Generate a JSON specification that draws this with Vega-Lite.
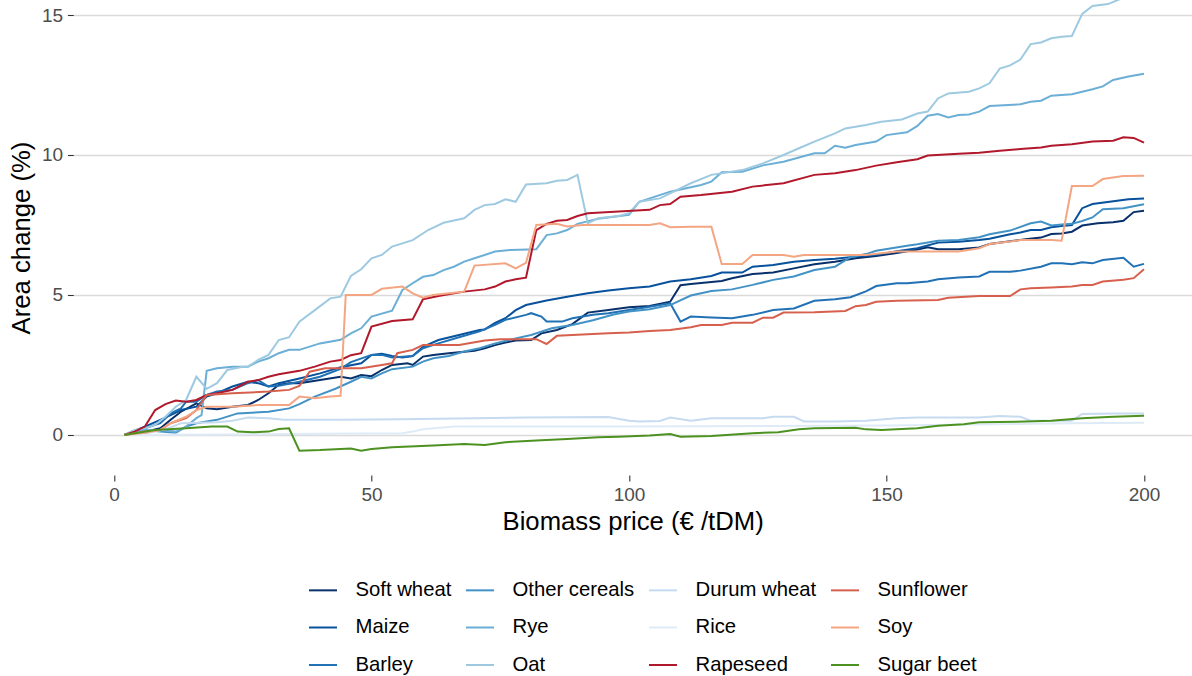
{
"$schema": "https://vega.github.io/schema/vega-lite/v6.json",
"width": 1118.6,
"height": 475,
"autosize": {"type": "none"},
"padding": {"left": 73.3, "top": 0, "right": 0, "bottom": 201},
"background": "white",
"config": {"view": {"stroke": null}, "font": "Liberation Sans"},
"datasets": {
"series": [
{"crop":"Soft wheat","price":2,"change":0},{"crop":"Soft wheat","price":6,"change":0.12},{"crop":"Soft wheat","price":9,"change":0.24},{"crop":"Soft wheat","price":11,"change":0.54},{"crop":"Soft wheat","price":13,"change":0.83},{"crop":"Soft wheat","price":16,"change":1.13},{"crop":"Soft wheat","price":18,"change":0.95},{"crop":"Soft wheat","price":20,"change":0.92},{"crop":"Soft wheat","price":23,"change":1.01},{"crop":"Soft wheat","price":26,"change":1.07},{"crop":"Soft wheat","price":28,"change":1.25},{"crop":"Soft wheat","price":30,"change":1.49},{"crop":"Soft wheat","price":32,"change":1.79},{"crop":"Soft wheat","price":34,"change":1.85},{"crop":"Soft wheat","price":36,"change":1.85},{"crop":"Soft wheat","price":40,"change":1.96},{"crop":"Soft wheat","price":44,"change":2.08},{"crop":"Soft wheat","price":46,"change":2.02},{"crop":"Soft wheat","price":48,"change":2.14},{"crop":"Soft wheat","price":50,"change":2.1},{"crop":"Soft wheat","price":52,"change":2.32},{"crop":"Soft wheat","price":54,"change":2.5},{"crop":"Soft wheat","price":57,"change":2.56},{"crop":"Soft wheat","price":58,"change":2.5},{"crop":"Soft wheat","price":60,"change":2.8},{"crop":"Soft wheat","price":62,"change":2.86},{"crop":"Soft wheat","price":65,"change":2.92},{"crop":"Soft wheat","price":70,"change":3.01},{"crop":"Soft wheat","price":72,"change":3.1},{"crop":"Soft wheat","price":74,"change":3.21},{"crop":"Soft wheat","price":76,"change":3.3},{"crop":"Soft wheat","price":78,"change":3.37},{"crop":"Soft wheat","price":81,"change":3.39},{"crop":"Soft wheat","price":83,"change":3.63},{"crop":"Soft wheat","price":86,"change":3.75},{"crop":"Soft wheat","price":89,"change":3.96},{"crop":"Soft wheat","price":92,"change":4.37},{"crop":"Soft wheat","price":96,"change":4.46},{"crop":"Soft wheat","price":100,"change":4.56},{"crop":"Soft wheat","price":104,"change":4.61},{"crop":"Soft wheat","price":108,"change":4.76},{"crop":"Soft wheat","price":110,"change":5.35},{"crop":"Soft wheat","price":112,"change":5.39},{"crop":"Soft wheat","price":118,"change":5.5},{"crop":"Soft wheat","price":120,"change":5.6},{"crop":"Soft wheat","price":124,"change":5.75},{"crop":"Soft wheat","price":128,"change":5.8},{"crop":"Soft wheat","price":132,"change":5.95},{"crop":"Soft wheat","price":136,"change":6.1},{"crop":"Soft wheat","price":140,"change":6.19},{"crop":"Soft wheat","price":144,"change":6.31},{"crop":"Soft wheat","price":148,"change":6.39},{"crop":"Soft wheat","price":152,"change":6.5},{"crop":"Soft wheat","price":156,"change":6.62},{"crop":"Soft wheat","price":158,"change":6.7},{"crop":"Soft wheat","price":160,"change":6.63},{"crop":"Soft wheat","price":164,"change":6.63},{"crop":"Soft wheat","price":168,"change":6.7},{"crop":"Soft wheat","price":170,"change":6.82},{"crop":"Soft wheat","price":174,"change":6.92},{"crop":"Soft wheat","price":177,"change":6.99},{"crop":"Soft wheat","price":180,"change":7.05},{"crop":"Soft wheat","price":182,"change":7.18},{"crop":"Soft wheat","price":184,"change":7.2},{"crop":"Soft wheat","price":186,"change":7.26},{"crop":"Soft wheat","price":188,"change":7.48},{"crop":"Soft wheat","price":191,"change":7.56},{"crop":"Soft wheat","price":194,"change":7.6},{"crop":"Soft wheat","price":196,"change":7.65},{"crop":"Soft wheat","price":198,"change":7.96},{"crop":"Soft wheat","price":200,"change":8.01},
{"crop":"Maize","price":2,"change":0},{"crop":"Maize","price":6,"change":0.3},{"crop":"Maize","price":9,"change":0.54},{"crop":"Maize","price":11,"change":0.71},{"crop":"Maize","price":13,"change":0.89},{"crop":"Maize","price":16,"change":1.01},{"crop":"Maize","price":18,"change":1.37},{"crop":"Maize","price":20,"change":1.49},{"crop":"Maize","price":23,"change":1.73},{"crop":"Maize","price":26,"change":1.9},{"crop":"Maize","price":28,"change":1.85},{"crop":"Maize","price":30,"change":1.73},{"crop":"Maize","price":32,"change":1.85},{"crop":"Maize","price":36,"change":2.02},{"crop":"Maize","price":40,"change":2.2},{"crop":"Maize","price":44,"change":2.42},{"crop":"Maize","price":48,"change":2.56},{"crop":"Maize","price":50,"change":2.86},{"crop":"Maize","price":52,"change":2.9},{"crop":"Maize","price":54,"change":2.82},{"crop":"Maize","price":56,"change":2.77},{"crop":"Maize","price":58,"change":2.82},{"crop":"Maize","price":60,"change":3.15},{"crop":"Maize","price":63,"change":3.39},{"crop":"Maize","price":67,"change":3.57},{"crop":"Maize","price":71,"change":3.75},{"crop":"Maize","price":72,"change":3.77},{"crop":"Maize","price":74,"change":4.0},{"crop":"Maize","price":76,"change":4.17},{"crop":"Maize","price":78,"change":4.46},{"crop":"Maize","price":80,"change":4.64},{"crop":"Maize","price":84,"change":4.8},{"crop":"Maize","price":88,"change":4.94},{"crop":"Maize","price":92,"change":5.06},{"crop":"Maize","price":96,"change":5.16},{"crop":"Maize","price":100,"change":5.24},{"crop":"Maize","price":104,"change":5.3},{"crop":"Maize","price":108,"change":5.48},{"crop":"Maize","price":112,"change":5.56},{"crop":"Maize","price":116,"change":5.68},{"crop":"Maize","price":118,"change":5.8},{"crop":"Maize","price":122,"change":5.8},{"crop":"Maize","price":124,"change":6.01},{"crop":"Maize","price":128,"change":6.07},{"crop":"Maize","price":132,"change":6.19},{"crop":"Maize","price":136,"change":6.25},{"crop":"Maize","price":140,"change":6.29},{"crop":"Maize","price":144,"change":6.37},{"crop":"Maize","price":148,"change":6.43},{"crop":"Maize","price":152,"change":6.56},{"crop":"Maize","price":156,"change":6.67},{"crop":"Maize","price":160,"change":6.87},{"crop":"Maize","price":164,"change":6.9},{"crop":"Maize","price":168,"change":6.96},{"crop":"Maize","price":170,"change":7.01},{"crop":"Maize","price":174,"change":7.17},{"crop":"Maize","price":176,"change":7.23},{"crop":"Maize","price":178,"change":7.32},{"crop":"Maize","price":180,"change":7.32},{"crop":"Maize","price":182,"change":7.42},{"crop":"Maize","price":184,"change":7.46},{"crop":"Maize","price":186,"change":7.5},{"crop":"Maize","price":188,"change":8.1},{"crop":"Maize","price":190,"change":8.25},{"crop":"Maize","price":197,"change":8.42},{"crop":"Maize","price":200,"change":8.45},
{"crop":"Barley","price":2,"change":0},{"crop":"Barley","price":6,"change":0.24},{"crop":"Barley","price":9,"change":0.42},{"crop":"Barley","price":11,"change":0.77},{"crop":"Barley","price":13,"change":0.95},{"crop":"Barley","price":14,"change":1.19},{"crop":"Barley","price":16,"change":1.19},{"crop":"Barley","price":18,"change":1.43},{"crop":"Barley","price":20,"change":1.55},{"crop":"Barley","price":23,"change":1.61},{"crop":"Barley","price":26,"change":1.85},{"crop":"Barley","price":28,"change":1.96},{"crop":"Barley","price":30,"change":1.73},{"crop":"Barley","price":32,"change":1.76},{"crop":"Barley","price":36,"change":1.9},{"crop":"Barley","price":40,"change":2.08},{"crop":"Barley","price":44,"change":2.36},{"crop":"Barley","price":46,"change":2.6},{"crop":"Barley","price":50,"change":2.86},{"crop":"Barley","price":52,"change":2.86},{"crop":"Barley","price":54,"change":2.77},{"crop":"Barley","price":58,"change":2.82},{"crop":"Barley","price":60,"change":3.1},{"crop":"Barley","price":63,"change":3.27},{"crop":"Barley","price":67,"change":3.49},{"crop":"Barley","price":71,"change":3.7},{"crop":"Barley","price":74,"change":3.93},{"crop":"Barley","price":76,"change":4.11},{"crop":"Barley","price":80,"change":4.29},{"crop":"Barley","price":81,"change":4.35},{"crop":"Barley","price":83,"change":4.23},{"crop":"Barley","price":84,"change":4.05},{"crop":"Barley","price":87,"change":4.05},{"crop":"Barley","price":89,"change":4.17},{"crop":"Barley","price":93,"change":4.29},{"crop":"Barley","price":96,"change":4.35},{"crop":"Barley","price":100,"change":4.46},{"crop":"Barley","price":104,"change":4.58},{"crop":"Barley","price":108,"change":4.7},{"crop":"Barley","price":110,"change":4.05},{"crop":"Barley","price":112,"change":4.23},{"crop":"Barley","price":116,"change":4.2},{"crop":"Barley","price":120,"change":4.17},{"crop":"Barley","price":124,"change":4.29},{"crop":"Barley","price":128,"change":4.46},{"crop":"Barley","price":132,"change":4.52},{"crop":"Barley","price":136,"change":4.79},{"crop":"Barley","price":140,"change":4.85},{"crop":"Barley","price":143,"change":4.92},{"crop":"Barley","price":146,"change":5.13},{"crop":"Barley","price":148,"change":5.32},{"crop":"Barley","price":152,"change":5.42},{"crop":"Barley","price":154,"change":5.42},{"crop":"Barley","price":158,"change":5.48},{"crop":"Barley","price":160,"change":5.56},{"crop":"Barley","price":164,"change":5.62},{"crop":"Barley","price":168,"change":5.66},{"crop":"Barley","price":170,"change":5.83},{"crop":"Barley","price":174,"change":5.83},{"crop":"Barley","price":176,"change":5.87},{"crop":"Barley","price":180,"change":6.01},{"crop":"Barley","price":182,"change":6.13},{"crop":"Barley","price":184,"change":6.13},{"crop":"Barley","price":186,"change":6.1},{"crop":"Barley","price":188,"change":6.17},{"crop":"Barley","price":190,"change":6.13},{"crop":"Barley","price":192,"change":6.25},{"crop":"Barley","price":196,"change":6.33},{"crop":"Barley","price":198,"change":6.01},{"crop":"Barley","price":200,"change":6.11},
{"crop":"Other cereals","price":2,"change":0},{"crop":"Other cereals","price":6,"change":0.18},{"crop":"Other cereals","price":9,"change":0.12},{"crop":"Other cereals","price":12,"change":0.08},{"crop":"Other cereals","price":14,"change":0.3},{"crop":"Other cereals","price":16,"change":0.42},{"crop":"Other cereals","price":18,"change":0.48},{"crop":"Other cereals","price":20,"change":0.54},{"crop":"Other cereals","price":24,"change":0.77},{"crop":"Other cereals","price":30,"change":0.83},{"crop":"Other cereals","price":34,"change":0.95},{"crop":"Other cereals","price":36,"change":1.1},{"crop":"Other cereals","price":39,"change":1.37},{"crop":"Other cereals","price":43,"change":1.65},{"crop":"Other cereals","price":46,"change":1.9},{"crop":"Other cereals","price":48,"change":2.08},{"crop":"Other cereals","price":50,"change":2.02},{"crop":"Other cereals","price":52,"change":2.2},{"crop":"Other cereals","price":54,"change":2.35},{"crop":"Other cereals","price":58,"change":2.44},{"crop":"Other cereals","price":60,"change":2.62},{"crop":"Other cereals","price":62,"change":2.74},{"crop":"Other cereals","price":65,"change":2.82},{"crop":"Other cereals","price":68,"change":2.98},{"crop":"Other cereals","price":71,"change":3.1},{"crop":"Other cereals","price":74,"change":3.27},{"crop":"Other cereals","price":78,"change":3.45},{"crop":"Other cereals","price":81,"change":3.57},{"crop":"Other cereals","price":85,"change":3.81},{"crop":"Other cereals","price":89,"change":3.93},{"crop":"Other cereals","price":93,"change":4.1},{"crop":"Other cereals","price":97,"change":4.3},{"crop":"Other cereals","price":100,"change":4.41},{"crop":"Other cereals","price":104,"change":4.49},{"crop":"Other cereals","price":108,"change":4.64},{"crop":"Other cereals","price":112,"change":4.98},{"crop":"Other cereals","price":116,"change":5.14},{"crop":"Other cereals","price":120,"change":5.2},{"crop":"Other cereals","price":124,"change":5.36},{"crop":"Other cereals","price":128,"change":5.54},{"crop":"Other cereals","price":132,"change":5.66},{"crop":"Other cereals","price":136,"change":5.89},{"crop":"Other cereals","price":140,"change":6.01},{"crop":"Other cereals","price":143,"change":6.35},{"crop":"Other cereals","price":146,"change":6.46},{"crop":"Other cereals","price":148,"change":6.58},{"crop":"Other cereals","price":151,"change":6.67},{"crop":"Other cereals","price":154,"change":6.76},{"crop":"Other cereals","price":156,"change":6.81},{"crop":"Other cereals","price":160,"change":6.94},{"crop":"Other cereals","price":164,"change":6.96},{"crop":"Other cereals","price":168,"change":7.06},{"crop":"Other cereals","price":170,"change":7.17},{"crop":"Other cereals","price":174,"change":7.3},{"crop":"Other cereals","price":178,"change":7.56},{"crop":"Other cereals","price":180,"change":7.62},{"crop":"Other cereals","price":182,"change":7.48},{"crop":"Other cereals","price":184,"change":7.52},{"crop":"Other cereals","price":186,"change":7.54},{"crop":"Other cereals","price":188,"change":7.64},{"crop":"Other cereals","price":190,"change":7.77},{"crop":"Other cereals","price":192,"change":8.06},{"crop":"Other cereals","price":196,"change":8.1},{"crop":"Other cereals","price":200,"change":8.24},
{"crop":"Rye","price":2,"change":0},{"crop":"Rye","price":6,"change":0.18},{"crop":"Rye","price":9,"change":0.18},{"crop":"Rye","price":12,"change":0.12},{"crop":"Rye","price":14,"change":0.3},{"crop":"Rye","price":16,"change":0.6},{"crop":"Rye","price":17,"change":0.71},{"crop":"Rye","price":18,"change":2.29},{"crop":"Rye","price":20,"change":2.38},{"crop":"Rye","price":23,"change":2.44},{"crop":"Rye","price":26,"change":2.44},{"crop":"Rye","price":28,"change":2.62},{"crop":"Rye","price":30,"change":2.74},{"crop":"Rye","price":32,"change":2.92},{"crop":"Rye","price":34,"change":3.04},{"crop":"Rye","price":36,"change":3.04},{"crop":"Rye","price":40,"change":3.27},{"crop":"Rye","price":44,"change":3.4},{"crop":"Rye","price":46,"change":3.63},{"crop":"Rye","price":48,"change":3.81},{"crop":"Rye","price":50,"change":4.23},{"crop":"Rye","price":54,"change":4.44},{"crop":"Rye","price":56,"change":5.18},{"crop":"Rye","price":58,"change":5.42},{"crop":"Rye","price":60,"change":5.65},{"crop":"Rye","price":62,"change":5.71},{"crop":"Rye","price":64,"change":5.89},{"crop":"Rye","price":66,"change":6.01},{"crop":"Rye","price":68,"change":6.19},{"crop":"Rye","price":70,"change":6.31},{"crop":"Rye","price":74,"change":6.55},{"crop":"Rye","price":77,"change":6.61},{"crop":"Rye","price":82,"change":6.63},{"crop":"Rye","price":84,"change":7.14},{"crop":"Rye","price":86,"change":7.2},{"crop":"Rye","price":88,"change":7.32},{"crop":"Rye","price":90,"change":7.54},{"crop":"Rye","price":94,"change":7.72},{"crop":"Rye","price":100,"change":7.86},{"crop":"Rye","price":102,"change":8.33},{"crop":"Rye","price":108,"change":8.69},{"crop":"Rye","price":114,"change":8.93},{"crop":"Rye","price":116,"change":9.05},{"crop":"Rye","price":118,"change":9.38},{"crop":"Rye","price":122,"change":9.4},{"crop":"Rye","price":126,"change":9.63},{"crop":"Rye","price":130,"change":9.76},{"crop":"Rye","price":136,"change":10.06},{"crop":"Rye","price":138,"change":10.06},{"crop":"Rye","price":140,"change":10.33},{"crop":"Rye","price":142,"change":10.26},{"crop":"Rye","price":144,"change":10.36},{"crop":"Rye","price":148,"change":10.48},{"crop":"Rye","price":150,"change":10.71},{"crop":"Rye","price":154,"change":10.81},{"crop":"Rye","price":156,"change":11.04},{"crop":"Rye","price":158,"change":11.4},{"crop":"Rye","price":160,"change":11.46},{"crop":"Rye","price":162,"change":11.34},{"crop":"Rye","price":164,"change":11.43},{"crop":"Rye","price":166,"change":11.45},{"crop":"Rye","price":168,"change":11.55},{"crop":"Rye","price":170,"change":11.75},{"crop":"Rye","price":176,"change":11.81},{"crop":"Rye","price":178,"change":11.9},{"crop":"Rye","price":180,"change":11.94},{"crop":"Rye","price":182,"change":12.12},{"crop":"Rye","price":186,"change":12.17},{"crop":"Rye","price":190,"change":12.35},{"crop":"Rye","price":192,"change":12.45},{"crop":"Rye","price":194,"change":12.68},{"crop":"Rye","price":197,"change":12.8},{"crop":"Rye","price":200,"change":12.9},
{"crop":"Oat","price":2,"change":0},{"crop":"Oat","price":4,"change":0.18},{"crop":"Oat","price":6,"change":0.24},{"crop":"Oat","price":8,"change":0.36},{"crop":"Oat","price":10,"change":0.65},{"crop":"Oat","price":12,"change":1.01},{"crop":"Oat","price":14,"change":1.25},{"crop":"Oat","price":16,"change":2.08},{"crop":"Oat","price":18,"change":1.65},{"crop":"Oat","price":20,"change":1.85},{"crop":"Oat","price":22,"change":2.32},{"crop":"Oat","price":25,"change":2.44},{"crop":"Oat","price":26,"change":2.44},{"crop":"Oat","price":28,"change":2.68},{"crop":"Oat","price":30,"change":2.86},{"crop":"Oat","price":32,"change":3.39},{"crop":"Oat","price":34,"change":3.49},{"crop":"Oat","price":36,"change":4.05},{"crop":"Oat","price":39,"change":4.46},{"crop":"Oat","price":42,"change":4.88},{"crop":"Oat","price":44,"change":4.94},{"crop":"Oat","price":46,"change":5.68},{"crop":"Oat","price":48,"change":5.92},{"crop":"Oat","price":50,"change":6.31},{"crop":"Oat","price":52,"change":6.43},{"crop":"Oat","price":54,"change":6.73},{"crop":"Oat","price":58,"change":6.96},{"crop":"Oat","price":61,"change":7.32},{"crop":"Oat","price":64,"change":7.58},{"crop":"Oat","price":68,"change":7.74},{"crop":"Oat","price":70,"change":8.04},{"crop":"Oat","price":72,"change":8.21},{"crop":"Oat","price":74,"change":8.25},{"crop":"Oat","price":76,"change":8.42},{"crop":"Oat","price":78,"change":8.33},{"crop":"Oat","price":80,"change":8.95},{"crop":"Oat","price":84,"change":8.99},{"crop":"Oat","price":86,"change":9.08},{"crop":"Oat","price":88,"change":9.11},{"crop":"Oat","price":90,"change":9.29},{"crop":"Oat","price":92,"change":7.56},{"crop":"Oat","price":94,"change":7.74},{"crop":"Oat","price":98,"change":7.82},{"crop":"Oat","price":100,"change":7.92},{"crop":"Oat","price":102,"change":8.33},{"crop":"Oat","price":104,"change":8.39},{"crop":"Oat","price":106,"change":8.45},{"crop":"Oat","price":112,"change":8.99},{"crop":"Oat","price":116,"change":9.29},{"crop":"Oat","price":122,"change":9.46},{"crop":"Oat","price":126,"change":9.7},{"crop":"Oat","price":130,"change":10.0},{"crop":"Oat","price":133,"change":10.24},{"crop":"Oat","price":136,"change":10.48},{"crop":"Oat","price":140,"change":10.77},{"crop":"Oat","price":142,"change":10.95},{"crop":"Oat","price":146,"change":11.07},{"crop":"Oat","price":149,"change":11.19},{"crop":"Oat","price":153,"change":11.27},{"crop":"Oat","price":156,"change":11.48},{"crop":"Oat","price":158,"change":11.55},{"crop":"Oat","price":160,"change":12.02},{"crop":"Oat","price":162,"change":12.2},{"crop":"Oat","price":166,"change":12.26},{"crop":"Oat","price":168,"change":12.38},{"crop":"Oat","price":170,"change":12.56},{"crop":"Oat","price":172,"change":13.09},{"crop":"Oat","price":174,"change":13.2},{"crop":"Oat","price":176,"change":13.41},{"crop":"Oat","price":178,"change":13.96},{"crop":"Oat","price":180,"change":14.02},{"crop":"Oat","price":182,"change":14.17},{"crop":"Oat","price":184,"change":14.22},{"crop":"Oat","price":186,"change":14.25},{"crop":"Oat","price":188,"change":15.04},{"crop":"Oat","price":190,"change":15.32},{"crop":"Oat","price":193,"change":15.39},{"crop":"Oat","price":195,"change":15.54},{"crop":"Oat","price":198,"change":15.8},{"crop":"Oat","price":200,"change":16.0},
{"crop":"Durum wheat","price":2,"change":0},{"crop":"Durum wheat","price":6,"change":0.05},{"crop":"Durum wheat","price":10,"change":0.2},{"crop":"Durum wheat","price":13,"change":0.42},{"crop":"Durum wheat","price":20,"change":0.45},{"crop":"Durum wheat","price":23,"change":0.51},{"crop":"Durum wheat","price":26,"change":0.62},{"crop":"Durum wheat","price":30,"change":0.6},{"crop":"Durum wheat","price":33,"change":0.54},{"crop":"Durum wheat","price":44,"change":0.54},{"crop":"Durum wheat","price":56,"change":0.56},{"crop":"Durum wheat","price":70,"change":0.6},{"crop":"Durum wheat","price":80,"change":0.62},{"crop":"Durum wheat","price":96,"change":0.64},{"crop":"Durum wheat","price":100,"change":0.51},{"crop":"Durum wheat","price":102,"change":0.48},{"crop":"Durum wheat","price":106,"change":0.5},{"crop":"Durum wheat","price":108,"change":0.62},{"crop":"Durum wheat","price":112,"change":0.51},{"crop":"Durum wheat","price":116,"change":0.6},{"crop":"Durum wheat","price":126,"change":0.6},{"crop":"Durum wheat","price":128,"change":0.65},{"crop":"Durum wheat","price":132,"change":0.65},{"crop":"Durum wheat","price":134,"change":0.48},{"crop":"Durum wheat","price":140,"change":0.48},{"crop":"Durum wheat","price":146,"change":0.51},{"crop":"Durum wheat","price":152,"change":0.6},{"crop":"Durum wheat","price":156,"change":0.62},{"crop":"Durum wheat","price":168,"change":0.62},{"crop":"Durum wheat","price":172,"change":0.68},{"crop":"Durum wheat","price":176,"change":0.65},{"crop":"Durum wheat","price":178,"change":0.51},{"crop":"Durum wheat","price":186,"change":0.51},{"crop":"Durum wheat","price":188,"change":0.75},{"crop":"Durum wheat","price":194,"change":0.77},{"crop":"Durum wheat","price":200,"change":0.77},
{"crop":"Rice","price":2,"change":0},{"crop":"Rice","price":20,"change":0.02},{"crop":"Rice","price":40,"change":0.04},{"crop":"Rice","price":56,"change":0.06},{"crop":"Rice","price":58,"change":0.12},{"crop":"Rice","price":60,"change":0.2},{"crop":"Rice","price":66,"change":0.3},{"crop":"Rice","price":100,"change":0.3},{"crop":"Rice","price":150,"change":0.34},{"crop":"Rice","price":170,"change":0.38},{"crop":"Rice","price":186,"change":0.42},{"crop":"Rice","price":200,"change":0.44},
{"crop":"Rapeseed","price":2,"change":0},{"crop":"Rapeseed","price":4,"change":0.12},{"crop":"Rapeseed","price":6,"change":0.3},{"crop":"Rapeseed","price":8,"change":0.89},{"crop":"Rapeseed","price":10,"change":1.1},{"crop":"Rapeseed","price":12,"change":1.23},{"crop":"Rapeseed","price":14,"change":1.19},{"crop":"Rapeseed","price":16,"change":1.25},{"crop":"Rapeseed","price":18,"change":1.43},{"crop":"Rapeseed","price":20,"change":1.49},{"crop":"Rapeseed","price":23,"change":1.61},{"crop":"Rapeseed","price":26,"change":1.9},{"crop":"Rapeseed","price":28,"change":1.96},{"crop":"Rapeseed","price":30,"change":2.08},{"crop":"Rapeseed","price":32,"change":2.17},{"crop":"Rapeseed","price":36,"change":2.29},{"crop":"Rapeseed","price":39,"change":2.44},{"crop":"Rapeseed","price":42,"change":2.62},{"crop":"Rapeseed","price":44,"change":2.68},{"crop":"Rapeseed","price":46,"change":2.85},{"crop":"Rapeseed","price":48,"change":2.92},{"crop":"Rapeseed","price":50,"change":3.87},{"crop":"Rapeseed","price":54,"change":4.07},{"crop":"Rapeseed","price":58,"change":4.13},{"crop":"Rapeseed","price":60,"change":4.85},{"crop":"Rapeseed","price":63,"change":4.96},{"crop":"Rapeseed","price":68,"change":5.12},{"crop":"Rapeseed","price":72,"change":5.2},{"crop":"Rapeseed","price":74,"change":5.3},{"crop":"Rapeseed","price":76,"change":5.48},{"crop":"Rapeseed","price":78,"change":5.56},{"crop":"Rapeseed","price":80,"change":5.62},{"crop":"Rapeseed","price":82,"change":7.32},{"crop":"Rapeseed","price":84,"change":7.54},{"crop":"Rapeseed","price":86,"change":7.65},{"crop":"Rapeseed","price":88,"change":7.68},{"crop":"Rapeseed","price":90,"change":7.82},{"crop":"Rapeseed","price":92,"change":7.92},{"crop":"Rapeseed","price":98,"change":7.98},{"crop":"Rapeseed","price":104,"change":8.04},{"crop":"Rapeseed","price":106,"change":8.21},{"crop":"Rapeseed","price":108,"change":8.25},{"crop":"Rapeseed","price":110,"change":8.51},{"crop":"Rapeseed","price":114,"change":8.57},{"crop":"Rapeseed","price":120,"change":8.69},{"crop":"Rapeseed","price":124,"change":8.87},{"crop":"Rapeseed","price":130,"change":8.99},{"crop":"Rapeseed","price":136,"change":9.29},{"crop":"Rapeseed","price":140,"change":9.35},{"crop":"Rapeseed","price":144,"change":9.46},{"crop":"Rapeseed","price":148,"change":9.62},{"crop":"Rapeseed","price":152,"change":9.74},{"crop":"Rapeseed","price":156,"change":9.85},{"crop":"Rapeseed","price":158,"change":9.98},{"crop":"Rapeseed","price":164,"change":10.04},{"crop":"Rapeseed","price":168,"change":10.08},{"crop":"Rapeseed","price":172,"change":10.15},{"crop":"Rapeseed","price":176,"change":10.21},{"crop":"Rapeseed","price":180,"change":10.27},{"crop":"Rapeseed","price":182,"change":10.33},{"crop":"Rapeseed","price":186,"change":10.38},{"crop":"Rapeseed","price":190,"change":10.48},{"crop":"Rapeseed","price":194,"change":10.51},{"crop":"Rapeseed","price":196,"change":10.63},{"crop":"Rapeseed","price":198,"change":10.61},{"crop":"Rapeseed","price":200,"change":10.44},
{"crop":"Sunflower","price":2,"change":0},{"crop":"Sunflower","price":6,"change":0.12},{"crop":"Sunflower","price":9,"change":0.18},{"crop":"Sunflower","price":11,"change":0.42},{"crop":"Sunflower","price":14,"change":0.6},{"crop":"Sunflower","price":16,"change":0.89},{"crop":"Sunflower","price":18,"change":1.43},{"crop":"Sunflower","price":23,"change":1.49},{"crop":"Sunflower","price":30,"change":1.55},{"crop":"Sunflower","price":34,"change":1.61},{"crop":"Sunflower","price":36,"change":1.75},{"crop":"Sunflower","price":38,"change":2.26},{"crop":"Sunflower","price":41,"change":2.38},{"crop":"Sunflower","price":44,"change":2.38},{"crop":"Sunflower","price":48,"change":2.38},{"crop":"Sunflower","price":52,"change":2.5},{"crop":"Sunflower","price":54,"change":2.56},{"crop":"Sunflower","price":55,"change":2.92},{"crop":"Sunflower","price":58,"change":3.04},{"crop":"Sunflower","price":60,"change":3.21},{"crop":"Sunflower","price":67,"change":3.21},{"crop":"Sunflower","price":72,"change":3.37},{"crop":"Sunflower","price":75,"change":3.42},{"crop":"Sunflower","price":82,"change":3.42},{"crop":"Sunflower","price":84,"change":3.25},{"crop":"Sunflower","price":86,"change":3.54},{"crop":"Sunflower","price":89,"change":3.57},{"crop":"Sunflower","price":93,"change":3.61},{"crop":"Sunflower","price":96,"change":3.63},{"crop":"Sunflower","price":100,"change":3.66},{"crop":"Sunflower","price":104,"change":3.71},{"crop":"Sunflower","price":108,"change":3.75},{"crop":"Sunflower","price":112,"change":3.85},{"crop":"Sunflower","price":114,"change":3.93},{"crop":"Sunflower","price":118,"change":3.93},{"crop":"Sunflower","price":120,"change":4.01},{"crop":"Sunflower","price":124,"change":4.01},{"crop":"Sunflower","price":126,"change":4.19},{"crop":"Sunflower","price":128,"change":4.19},{"crop":"Sunflower","price":130,"change":4.37},{"crop":"Sunflower","price":136,"change":4.38},{"crop":"Sunflower","price":142,"change":4.43},{"crop":"Sunflower","price":144,"change":4.6},{"crop":"Sunflower","price":146,"change":4.64},{"crop":"Sunflower","price":148,"change":4.76},{"crop":"Sunflower","price":152,"change":4.79},{"crop":"Sunflower","price":160,"change":4.82},{"crop":"Sunflower","price":162,"change":4.9},{"crop":"Sunflower","price":168,"change":4.96},{"crop":"Sunflower","price":174,"change":4.96},{"crop":"Sunflower","price":176,"change":5.2},{"crop":"Sunflower","price":178,"change":5.24},{"crop":"Sunflower","price":182,"change":5.27},{"crop":"Sunflower","price":186,"change":5.3},{"crop":"Sunflower","price":188,"change":5.36},{"crop":"Sunflower","price":190,"change":5.36},{"crop":"Sunflower","price":192,"change":5.48},{"crop":"Sunflower","price":196,"change":5.54},{"crop":"Sunflower","price":198,"change":5.6},{"crop":"Sunflower","price":200,"change":5.92},
{"crop":"Soy","price":2,"change":0},{"crop":"Soy","price":6,"change":0.08},{"crop":"Soy","price":9,"change":0.18},{"crop":"Soy","price":11,"change":0.42},{"crop":"Soy","price":14,"change":0.65},{"crop":"Soy","price":16,"change":0.89},{"crop":"Soy","price":18,"change":1.01},{"crop":"Soy","price":23,"change":1.01},{"crop":"Soy","price":28,"change":1.07},{"crop":"Soy","price":34,"change":1.07},{"crop":"Soy","price":36,"change":1.37},{"crop":"Soy","price":39,"change":1.31},{"crop":"Soy","price":42,"change":1.37},{"crop":"Soy","price":44,"change":1.4},{"crop":"Soy","price":45,"change":5.0},{"crop":"Soy","price":50,"change":5.0},{"crop":"Soy","price":52,"change":5.22},{"crop":"Soy","price":56,"change":5.3},{"crop":"Soy","price":58,"change":5.06},{"crop":"Soy","price":60,"change":4.9},{"crop":"Soy","price":62,"change":5.0},{"crop":"Soy","price":66,"change":5.08},{"crop":"Soy","price":68,"change":5.12},{"crop":"Soy","price":70,"change":6.05},{"crop":"Soy","price":76,"change":6.13},{"crop":"Soy","price":78,"change":5.95},{"crop":"Soy","price":80,"change":6.15},{"crop":"Soy","price":82,"change":7.5},{"crop":"Soy","price":86,"change":7.54},{"crop":"Soy","price":88,"change":7.45},{"crop":"Soy","price":91,"change":7.5},{"crop":"Soy","price":104,"change":7.5},{"crop":"Soy","price":106,"change":7.56},{"crop":"Soy","price":108,"change":7.42},{"crop":"Soy","price":112,"change":7.44},{"crop":"Soy","price":116,"change":7.44},{"crop":"Soy","price":118,"change":6.11},{"crop":"Soy","price":122,"change":6.11},{"crop":"Soy","price":124,"change":6.43},{"crop":"Soy","price":130,"change":6.43},{"crop":"Soy","price":132,"change":6.37},{"crop":"Soy","price":134,"change":6.43},{"crop":"Soy","price":146,"change":6.43},{"crop":"Soy","price":152,"change":6.55},{"crop":"Soy","price":164,"change":6.55},{"crop":"Soy","price":168,"change":6.67},{"crop":"Soy","price":170,"change":6.82},{"crop":"Soy","price":176,"change":6.96},{"crop":"Soy","price":182,"change":6.96},{"crop":"Soy","price":184,"change":6.94},{"crop":"Soy","price":186,"change":8.89},{"crop":"Soy","price":190,"change":8.89},{"crop":"Soy","price":192,"change":9.14},{"crop":"Soy","price":196,"change":9.25},{"crop":"Soy","price":200,"change":9.26},
{"crop":"Sugar beet","price":2,"change":0},{"crop":"Sugar beet","price":8,"change":0.18},{"crop":"Sugar beet","price":14,"change":0.24},{"crop":"Sugar beet","price":19,"change":0.3},{"crop":"Sugar beet","price":22,"change":0.3},{"crop":"Sugar beet","price":24,"change":0.12},{"crop":"Sugar beet","price":27,"change":0.1},{"crop":"Sugar beet","price":30,"change":0.12},{"crop":"Sugar beet","price":32,"change":0.21},{"crop":"Sugar beet","price":34,"change":0.24},{"crop":"Sugar beet","price":36,"change":-0.56},{"crop":"Sugar beet","price":40,"change":-0.54},{"crop":"Sugar beet","price":44,"change":-0.5},{"crop":"Sugar beet","price":46,"change":-0.48},{"crop":"Sugar beet","price":48,"change":-0.56},{"crop":"Sugar beet","price":50,"change":-0.5},{"crop":"Sugar beet","price":54,"change":-0.44},{"crop":"Sugar beet","price":62,"change":-0.38},{"crop":"Sugar beet","price":68,"change":-0.32},{"crop":"Sugar beet","price":72,"change":-0.36},{"crop":"Sugar beet","price":76,"change":-0.26},{"crop":"Sugar beet","price":82,"change":-0.2},{"crop":"Sugar beet","price":88,"change":-0.14},{"crop":"Sugar beet","price":94,"change":-0.08},{"crop":"Sugar beet","price":98,"change":-0.06},{"crop":"Sugar beet","price":104,"change":-0.02},{"crop":"Sugar beet","price":108,"change":0.03},{"crop":"Sugar beet","price":110,"change":-0.06},{"crop":"Sugar beet","price":116,"change":-0.04},{"crop":"Sugar beet","price":124,"change":0.06},{"crop":"Sugar beet","price":129,"change":0.1},{"crop":"Sugar beet","price":133,"change":0.2},{"crop":"Sugar beet","price":136,"change":0.24},{"crop":"Sugar beet","price":144,"change":0.26},{"crop":"Sugar beet","price":146,"change":0.2},{"crop":"Sugar beet","price":149,"change":0.18},{"crop":"Sugar beet","price":156,"change":0.24},{"crop":"Sugar beet","price":160,"change":0.33},{"crop":"Sugar beet","price":165,"change":0.38},{"crop":"Sugar beet","price":168,"change":0.45},{"crop":"Sugar beet","price":177,"change":0.48},{"crop":"Sugar beet","price":182,"change":0.51},{"crop":"Sugar beet","price":188,"change":0.6},{"crop":"Sugar beet","price":194,"change":0.65},{"crop":"Sugar beet","price":200,"change":0.69}
]
},
"data": {"name": "series"},
"mark": {"type": "line", "strokeWidth": 2, "clip": true},
"encoding": {
"x": {"field": "price", "type": "quantitative",
"scale": {"domain": [-7.9, 209.3], "nice": false, "zero": false},
"axis": {"values": [0, 50, 100, 150, 200], "grid": false, "domain": false, "ticks": true, "tickSize": 5.9, "tickColor": "#333333", "tickWidth": 1.1, "labelFontSize": 19, "labelColor": "#4D4D4D", "labelPadding": 4.75, "labelFlush": false, "title": "Biomass price (€ /tDM)", "titleFontSize": 25.7, "titleFontWeight": "normal", "titleColor": "#000000", "titlePadding": 5}},
"y": {"field": "change", "type": "quantitative",
"scale": {"domain": [-1.43, 15.536], "nice": false, "zero": false},
"axis": {"values": [0, 5, 10, 15], "grid": true, "gridColor": "#DADADA", "gridWidth": 1.6, "domain": false, "ticks": true, "tickSize": 5.9, "tickColor": "#333333", "tickWidth": 1.1, "labelFontSize": 19, "labelColor": "#4D4D4D", "labelPadding": 4.75, "labelFlush": false, "title": "Area change (%)", "titleFontSize": 25.7, "titleFontWeight": "normal", "titleColor": "#000000", "titlePadding": 7}},
"color": {"field": "crop", "type": "nominal",
"scale": {"domain": ["Soft wheat", "Maize", "Barley", "Other cereals", "Rye", "Oat", "Durum wheat", "Rice", "Rapeseed", "Sunflower", "Soy", "Sugar beet"],
"range": ["#08306B", "#08519C", "#2171B5", "#4292C6", "#6BAED6", "#9ECAE1", "#C6DBEF", "#DEEBF7", "#B2182B", "#D6604D", "#F4A582", "#4D9221"]},
"legend": {"orient": "none", "legendX": 234.7, "legendY": 575, "columns": 4, "title": null, "symbolType": "stroke", "symbolSize": 784, "symbolStrokeWidth": 2, "labelFontSize": 20.3, "labelColor": "#000000", "labelOffset": 17.5, "columnPadding": 10, "rowPadding": 11.5, "padding": 0, "labelLimit": 300}}
}
}
